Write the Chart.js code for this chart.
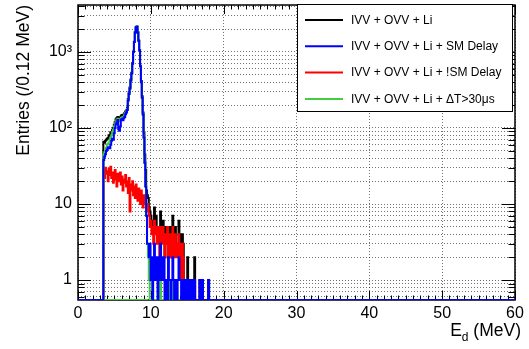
<!DOCTYPE html>
<html>
<head>
<meta charset="utf-8">
<script src="https://cdn.jsdelivr.net/npm/chart.js@4.4.1/dist/chart.umd.min.js"></script>
<style>
	html, body { margin: 0; padding: 0; background: #fff; }
	#wrap { width: 529px; height: 349px; }
</style>
</head>
<body>
<div id="wrap"><canvas id="canvas" width="529" height="349"></canvas></div>
<script>
// histogram binning: 0.12 MeV bins over 0-60 MeV, counts start at bin 29 (3.48 MeV)
var BIN_WIDTH = 0.12;
var N_BINS = 500;
var FIRST_BIN = 29;

var seriesLabels = ['IVV + OVV + Li', 'IVV + OVV + Li + SM Delay', 'IVV + OVV + Li + !SM Delay', 'IVV + OVV + Li + \u0394T>30\u03bcs'];

var totalCounts = [
	66, 64, 68, 70, 72, 74, 80, 78, 88, 86,
	95, 100, 110, 120, 130, 135, 140, 132, 130, 138,
	145, 148, 142, 150, 158, 165, 170, 185, 240, 295,
	340, 435, 535, 715, 1015, 1365, 1815, 2115, 2165, 1815,
	1415, 1065, 660, 415, 262, 160, 88, 45, 28, 15,
	13, 12, 9, 8, 7, 6, 5, 5, 9, 5,
	7, 5, 5, 5, 4, 8, 4, 6, 6, 5,
	2, 5, 4, 5, 4, 4, 5, 2, 4, 7,
	3, 3, 5, 3, 3, 3, 6, 4, 3, 1,
	4, 3, 1, 1, 1, 1, 2, 0, 1, 1,
	0, 1, 0, 1, 2, 0, 0, 0, 0, 0,
	1, 0, 0, 1, 0, 0, 0, 0, 0, 0,
	1, 0
];
var smDelayCounts = [
	38, 42, 45, 50, 52, 55, 56, 54, 60, 68,
	72, 70, 85, 100, 112, 118, 127, 96, 92, 105,
	128, 132, 126, 134, 140, 152, 160, 172, 230, 280,
	330, 420, 520, 700, 1000, 1350, 1800, 2100, 2150, 1800,
	1400, 1050, 650, 400, 250, 150, 75, 35, 17, 7,
	3, 3, 2, 3, 1, 2, 0, 2, 3, 1,
	2, 2, 0, 1, 2, 3, 1, 2, 1, 2,
	0, 1, 1, 0, 2, 1, 1, 0, 1, 2,
	1, 0, 1, 1, 0, 1, 2, 1, 1, 0,
	1, 1, 0, 1, 0, 1, 1, 0, 1, 0,
	0, 1, 0, 0, 1, 0, 0, 0, 0, 0,
	1, 0, 0, 1, 0, 0, 0, 0, 0, 0,
	1, 0
];
var notSmDelayCounts = [
	28, 22, 30, 25, 27, 20, 29, 24, 31, 22,
	26, 19, 24, 28, 21, 17, 25, 22, 20, 26,
	18, 23, 15, 21, 19, 24, 17, 20, 14, 22,
	8, 18, 15, 20, 13, 17, 12, 18, 14, 11,
	16, 13, 10, 15, 12, 9, 13, 10, 11, 8,
	10, 9, 7, 5, 6, 4, 5, 3, 6, 4,
	5, 3, 5, 4, 2, 5, 3, 4, 5, 3,
	2, 4, 3, 5, 2, 3, 4, 2, 3, 5,
	2, 3, 4, 2, 3, 2, 4, 3, 2, 1,
	3, 2, 1, 0, 1, 0, 1, 0, 0, 1,
	0, 0, 0, 1, 1, 0, 0, 0, 0, 0
];
var dtCutCounts = [
	45, 48, 52, 55, 60, 62, 64, 70, 75, 80,
	88, 95, 105, 115, 122, 128, 132, 126, 124, 130,
	135, 138, 136, 142, 150, 158, 165, 178, 232, 280,
	330, 420, 520, 700, 1000, 1350, 1800, 2100, 2150, 1800,
	1400, 1050, 650, 400, 250, 150, 75, 35, 17, 7,
	3, 2, 1, 0, 0, 0, 0, 0, 0, 0,
	0, 0, 0, 0, 0, 1, 0, 0, 0, 0,
	0, 0, 0, 0, 0, 1, 0, 0, 0, 0,
	1, 0, 0, 1, 0, 0, 0, 0, 0, 0
];
// empty (zero content) stretch of the second green histogram, in MeV
var dtEmptyEdges = [3.48, 9.6];

var xTicks = [0, 10, 20, 30, 40, 50, 60];
var yTicks = [0.6, 0.7, 0.8, 0.9, 1, 2, 3, 4, 5, 6, 7, 8, 9, 10, 20, 30, 40, 50, 60, 70, 80, 90,
	100, 200, 300, 400, 500, 600, 700, 800, 900, 1000, 2000, 3000, 4000];
var yTickLabels = { 1: '1', 10: '10', 100: '10\u00b2', 1000: '10\u00b3' };

var Y_MIN = 0.546, Y_MAX = 4150;
var FONT = "'Liberation Sans', Arial, Helvetica, sans-serif";

function histPoints(counts){
	var pts = [];
	for(var b = 0; b < N_BINS; b++){
		var v = counts[b - FIRST_BIN] || 0;
		pts.push({ x: +(b * BIN_WIDTH).toFixed(2), y: v > 0 ? v : Y_MIN });
	}
	pts.push({ x: 60, y: pts[pts.length - 1].y });
	return pts;
}

function histSet(label, counts, color, order){
	return {
		label: label,
		data: histPoints(counts),
		borderColor: color,
		borderWidth: 2,
		pointRadius: 0,
		stepped: true,
		fill: false,
		order: order
	};
}

var frame = {
	id: 'frame',
	beforeDatasetsDraw: function(chart){
		var ctx = chart.ctx, a = chart.chartArea;
		var xs = chart.scales.x, ys = chart.scales.y;
		ctx.save();
		ctx.strokeStyle = '#000';
		ctx.lineWidth = 1;
		ctx.beginPath();
		for(var e = 0; e <= 60; e++){
			var px = Math.round(xs.getPixelForValue(e)) + 0.5;
			var len = e % 10 == 0 ? 9 : 4.5;
			ctx.moveTo(px, a.bottom); ctx.lineTo(px, a.bottom - len);
			ctx.moveTo(px, a.top); ctx.lineTo(px, a.top + len);
		}
		for(var i = 0; i < yTicks.length; i++){
			var py = Math.round(ys.getPixelForValue(yTicks[i])) + 0.5;
			var l = yTickLabels[yTicks[i]] ? 13 : 6.5;
			ctx.moveTo(a.left, py); ctx.lineTo(a.left + l, py);
			ctx.moveTo(a.right, py); ctx.lineTo(a.right - l, py);
		}
		ctx.stroke();
		ctx.lineWidth = 1.5;
		ctx.strokeRect(a.left, a.top, a.right - a.left, a.bottom - a.top);
		ctx.restore();
	},
	afterDatasetsDraw: function(chart){
		var ctx = chart.ctx;
		// legend box
		ctx.save();
		ctx.fillStyle = '#fff';
		ctx.fillRect(297, 4, 216, 108);
		ctx.strokeStyle = '#000';
		ctx.lineWidth = 1;
		ctx.strokeRect(297.5, 4.5, 215, 107);
		var sets = chart.data.datasets;
		ctx.font = '12px ' + FONT;
		ctx.textBaseline = 'middle';
		ctx.fillStyle = '#000';
		for(var i = 0; i < seriesLabels.length; i++){
			var y = 20 + i * 26.3;
			ctx.strokeStyle = sets[i].borderColor;
			ctx.lineWidth = 2;
			ctx.beginPath();
			ctx.moveTo(305, y); ctx.lineTo(343, y);
			ctx.stroke();
			ctx.fillText(seriesLabels[i], 351, y + 0.5);
		}
		ctx.restore();
	},
	afterDraw: function(chart){
		var ctx = chart.ctx;
		ctx.save();
		ctx.fillStyle = '#000';
		ctx.font = '17.5px ' + FONT;
		// y title, right adjusted to the top of the frame
		ctx.translate(24, 5);
		ctx.rotate(-Math.PI / 2);
		ctx.textAlign = 'right';
		ctx.textBaseline = 'middle';
		ctx.fillText('Entries (/0.12 MeV)', 0, 0);
		ctx.restore();

		// x title E_d (MeV), right adjusted
		ctx.save();
		ctx.fillStyle = '#000';
		ctx.textBaseline = 'alphabetic';
		ctx.font = '17.5px ' + FONT;
		var rest = ' (MeV)';
		var right = 521, base = 336;
		var wRest = ctx.measureText(rest).width;
		ctx.fillText(rest, right - wRest, base);
		ctx.font = '12px ' + FONT;
		var wSub = ctx.measureText('d').width;
		ctx.fillText('d', right - wRest - wSub, base + 5);
		ctx.font = '17.5px ' + FONT;
		var wE = ctx.measureText('E').width;
		ctx.fillText('E', right - wRest - wSub - wE, base);
		ctx.restore();
	}
};

var chartInit = {
	init : function(){
		Chart.defaults.font.family = FONT;
		var datasets = [
			histSet(seriesLabels[0], totalCounts, '#000000', 5),
			histSet(seriesLabels[1], smDelayCounts, '#0000ff', 0),
			histSet(seriesLabels[2], notSmDelayCounts, '#ff0000', 3),
			histSet(seriesLabels[3], dtCutCounts, '#44cc44', 2),
			{
				label: '',
				data: dtEmptyEdges.map(function(e){ return { x: e, y: Y_MIN }; }),
				borderColor: '#44cc44',
				borderWidth: 2,
				pointRadius: 0,
				fill: false,
				order: 1
			}
		];
		new Chart(document.getElementById('canvas').getContext('2d'), {
			type: 'line',
			data: { datasets: datasets },
			plugins: [frame],
			options: {
				responsive: false,
				animation: false,
				devicePixelRatio: 1,
				layout: { autoPadding: false, padding: { top: 5, right: 14, left: 0, bottom: 0 } },
				plugins: { legend: { display: false }, tooltip: { enabled: false } },
				scales: {
					x: {
						type: 'linear', min: 0, max: 60,
						afterBuildTicks: function(s){ s.ticks = xTicks.map(function(v){ return { value: v }; }); },
						afterFit: function(s){ s.height = 49; s.paddingLeft = 0; s.paddingRight = 0; },
						ticks: { color: '#000', font: { size: 16 }, padding: 4, maxRotation: 0 },
						grid: { color: 'rgba(0,0,0,0.55)', lineWidth: 1, drawTicks: false },
						border: { display: false, dash: [1, 2] }
					},
					y: {
						type: 'logarithmic', min: Y_MIN, max: Y_MAX,
						afterBuildTicks: function(s){ s.ticks = yTicks.map(function(v){ return { value: v }; }); },
						afterFit: function(s){ s.width = 78; s.paddingTop = 0; s.paddingBottom = 0; },
						ticks: {
							autoSkip: false, color: '#000', font: { size: 16 }, padding: 6,
							callback: function(v){ return yTickLabels[v] || ''; }
						},
						grid: { color: 'rgba(0,0,0,0.55)', lineWidth: 1, drawTicks: false },
						border: { display: false, dash: [1, 2] }
					}
				}
			}
		});
	}
};
chartInit.init();
</script>
</body>
</html>
